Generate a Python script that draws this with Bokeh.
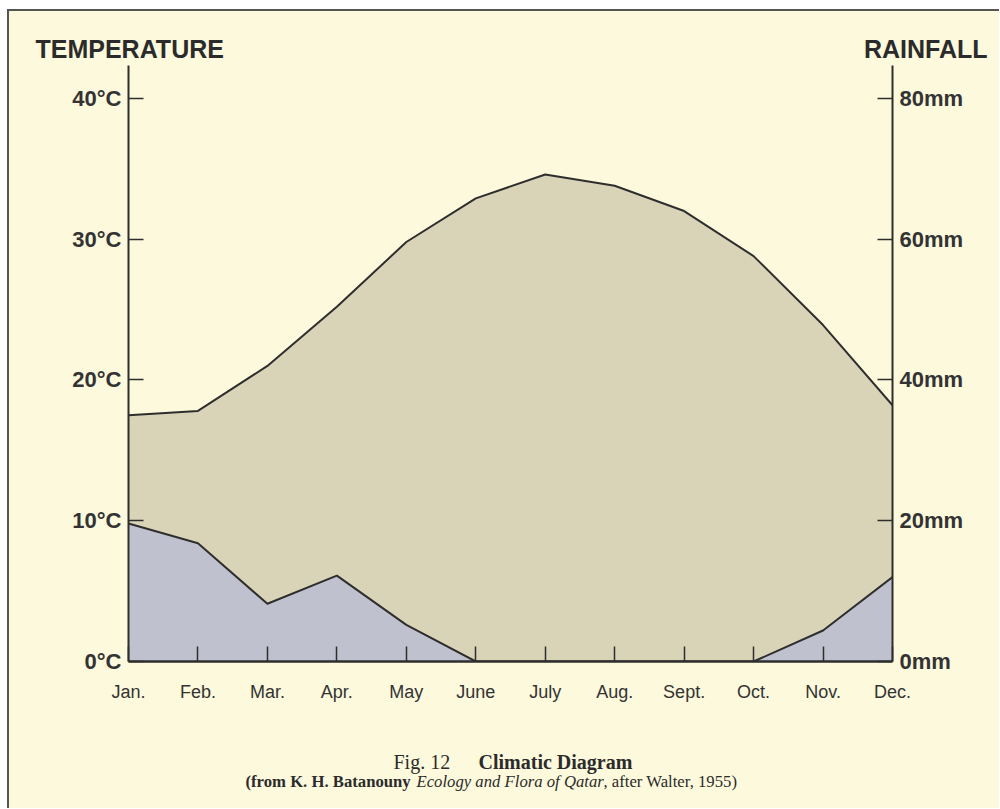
from bokeh.plotting import figure
from bokeh.layouts import column
from bokeh.models import Range1d, LinearAxis, FixedTicker, Label
from bokeh.embed import file_html
from bokeh.resources import INLINE

# ---- data ----
months = ["Jan.", "Feb.", "Mar.", "Apr.", "May", "June", "July", "Aug.", "Sept.", "Oct.", "Nov.", "Dec."]
month_pos = list(range(12))
temperature_c = [17.5, 17.8, 21.0, 25.2, 29.8, 32.9, 34.6, 33.8, 32.0, 28.8, 23.9, 18.2]
rainfall_mm = [19.6, 16.8, 8.2, 12.2, 5.2, 0.0, 0.0, 0.0, 0.0, 0.0, 4.4, 12.0]
temp_ticks = [0, 10, 20, 30, 40]
temp_labels = ["0°C", "10°C", "20°C", "30°C", "40°C"]
rain_ticks = [0, 20, 40, 60, 80]
rain_labels = ["0mm", "20mm", "40mm", "60mm", "80mm"]

BG = "#fdf9dc"
ARID = "#d9d3b7"
WET = "#c0c1ce"
INK = "#2e2e2e"
TXT = "#2b2b2b"
W = 990


def blank(h):
    f = figure(width=W, height=h, output_backend="svg", toolbar_location=None,
               x_range=Range1d(0, W), y_range=Range1d(0, h),
               x_axis_location=None, y_axis_location=None,
               min_border=0, background_fill_color=BG, border_fill_color=BG,
               outline_line_color=None, frame_align=False)
    f.grid.visible = False
    return f


def lab(f, text, x, y, font="Liberation Sans", size="25px", style="bold", align="left"):
    f.add_layout(Label(x=x, y=y, text=text, text_font=font, text_font_size=size,
                       text_font_style=style, text_color=TXT, text_align=align,
                       text_baseline="alphabetic"))


# ---- header ----
head = blank(54)
lab(head, "TEMPERATURE", 26, 17)
lab(head, "RAINFALL", 978, 17, align="right")

# ---- main chart ----
p = figure(width=W, height=646, output_backend="svg", toolbar_location=None,
           x_range=Range1d(0, 11), y_range=Range1d(0, 42.34),
           min_border_left=119, min_border_right=107, min_border_top=0, min_border_bottom=50,
           background_fill_color=BG, border_fill_color=BG, outline_line_color=None,
           frame_align=False)
p.grid.visible = False
p.extra_y_ranges = {"rain": Range1d(0, 84.68)}

p.varea(x=month_pos, y1=0, y2=temperature_c, fill_color=ARID)
p.varea(x=month_pos, y1=0, y2=rainfall_mm, fill_color=WET, y_range_name="rain")
p.line(month_pos, temperature_c, line_color=INK, line_width=2, line_join="round")
p.line(month_pos, rainfall_mm, line_color=INK, line_width=2, line_join="round", y_range_name="rain")

xa = p.xaxis[0]
xa.ticker = FixedTicker(ticks=month_pos)
xa.major_label_overrides = {i: m for i, m in zip(month_pos, months)}
xa.major_tick_in = 15
xa.major_tick_out = 0
xa.minor_tick_line_color = None
xa.axis_line_width = 2.5
xa.axis_line_color = INK
xa.major_tick_line_color = INK
xa.major_tick_line_width = 1.5
xa.major_label_standoff = 20
xa.major_label_text_font = "Liberation Sans"
xa.major_label_text_font_size = "18px"
xa.major_label_text_color = "#333333"

ya = p.yaxis[0]
ya.ticker = FixedTicker(ticks=temp_ticks)
ya.major_label_overrides = {t: l for t, l in zip(temp_ticks, temp_labels)}
ya.major_tick_in = 15
ya.major_tick_out = 0
ya.minor_tick_line_color = None
ya.axis_line_width = 2
ya.axis_line_color = INK
ya.major_tick_line_color = INK
ya.major_tick_line_width = 1.5
ya.major_label_standoff = 7
ya.major_label_text_font = "Liberation Sans"
ya.major_label_text_font_style = "bold"
ya.major_label_text_font_size = "22px"
ya.major_label_text_color = "#333333"

ra = LinearAxis(y_range_name="rain", ticker=FixedTicker(ticks=rain_ticks),
                major_label_overrides={t: l for t, l in zip(rain_ticks, rain_labels)})
ra.major_tick_in = 15
ra.major_tick_out = 0
ra.minor_tick_line_color = None
ra.axis_line_width = 2
ra.axis_line_color = INK
ra.major_tick_line_color = INK
ra.major_tick_line_width = 1.5
ra.major_label_standoff = 7
ra.major_label_text_font = "Liberation Sans"
ra.major_label_text_font_style = "bold"
ra.major_label_text_font_size = "22px"
ra.major_label_text_color = "#333333"
p.add_layout(ra, "right")

# ---- caption ----
cap = blank(97)
lab(cap, "Fig. 12", 384, 47, font="Liberation Serif", size="20px", style="normal")
lab(cap, "Climatic Diagram", 469, 47, font="Liberation Serif", size="20px", style="bold")
lab(cap, "(from K. H. Batanouny", 236, 27, font="Liberation Serif", size="16.7px", style="bold")
lab(cap, "Ecology and Flora of Qatar", 407, 27, font="Liberation Serif", size="16.7px", style="italic")
lab(cap, ", after Walter, 1955)", 594, 27, font="Liberation Serif", size="16.7px", style="normal")

page = column(head, p, cap, spacing=0)
page.styles = {"margin": "9px 0 0 7px", "background-color": BG,
               "border-top": "2px solid #555555", "border-left": "2px solid #555555"}

open("out.html", "w").write(file_html(page, INLINE))
